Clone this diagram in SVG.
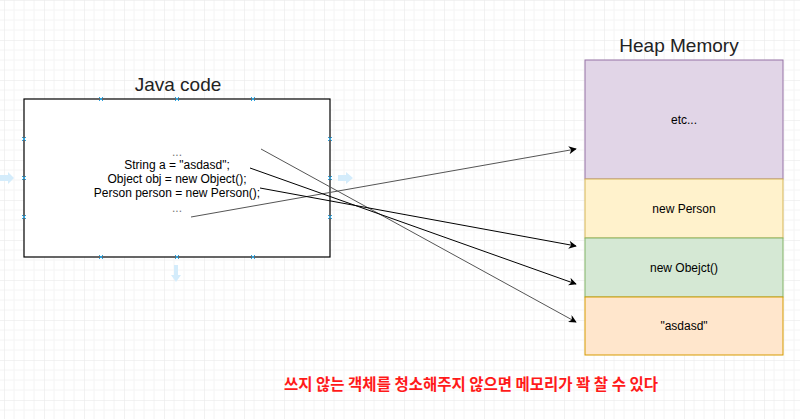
<svg xmlns="http://www.w3.org/2000/svg" width="800" height="419" viewBox="0 0 800 419">
<style>
text{font-family:"Liberation Sans",Arial,sans-serif;fill:#000}
.h{font-size:19px;fill:#222}
.c{font-size:12px}
.x{stroke:#29a3e0;stroke-width:1}
.ba{fill:#d4ecfb}
</style>
<defs>
<pattern id="g" width="40" height="40" patternUnits="userSpaceOnUse" x="4" y="0">
<path d="M10 0V40M20 0V40M30 0V40M0 10H40M0 20H40M0 30H40" stroke="#f4f4f4" stroke-width="1"/>
<path d="M0 0V40M0 0H40" stroke="#e6e6e6" stroke-width="1"/>
</pattern>
<marker id="a" viewBox="0 0 10 10" refX="9" refY="5" markerWidth="8" markerHeight="8" orient="auto" markerUnits="userSpaceOnUse"><path d="M0 0L10 5L0 10L3 5Z" fill="#000"/></marker>
<g id="xm"><path class="x" d="M-2 -2L2 2M-2 2L2 -2"/></g>
</defs>
<rect width="800" height="419" fill="#fff"/>
<rect width="800" height="419" fill="url(#g)"/>
<g id="hover">
<path class="ba" d="M0 175h8v-3l6 6-6 6v-3H0z"/>
<path class="ba" d="M338 175h8v-3l7 6-7 6v-3h-8z"/>
<path class="ba" d="M174 265h4v10h3l-5 7-5-7h3z"/>
</g>
<g id="java">
<text class="h" x="178" y="91" text-anchor="middle">Java code</text>
<rect x="24" y="99" width="306" height="158" fill="#fff" stroke="#000" stroke-width="1.2"/>
<text class="c" text-anchor="middle"><tspan x="177" y="156" fill="#777">...</tspan><tspan x="177" y="169">String a = "asdasd";</tspan><tspan x="177" y="183">Object obj = new Object();</tspan><tspan x="177" y="197">Person person = new Person();</tspan><tspan x="177" y="212" fill="#777">...</tspan></text>
<use href="#xm" x="101" y="99"/><use href="#xm" x="177" y="99"/><use href="#xm" x="253" y="99"/>
<use href="#xm" x="101" y="257"/><use href="#xm" x="177" y="257"/><use href="#xm" x="253" y="257"/>
<use href="#xm" x="24" y="139"/><use href="#xm" x="24" y="178"/><use href="#xm" x="24" y="217"/>
<use href="#xm" x="330" y="139"/><use href="#xm" x="330" y="178"/><use href="#xm" x="330" y="217"/>
</g>
<g id="heap">
<text class="h" x="679" y="52" text-anchor="middle">Heap Memory</text>
<rect x="585" y="60" width="198" height="119" fill="#e1d5e7" stroke="#9673a6"/>
<text class="c" x="684" y="124" text-anchor="middle">etc...</text>
<rect x="585" y="179" width="198" height="59" fill="#fff2cc" stroke="#d6b656"/>
<text class="c" x="684" y="213" text-anchor="middle">new Person</text>
<rect x="585" y="238" width="198" height="59" fill="#d5e8d4" stroke="#82b366"/>
<text class="c" x="684" y="272" text-anchor="middle">new Obejct()</text>
<rect x="585" y="297" width="198" height="58" fill="#ffe6cc" stroke="#d79b00"/>
<text class="c" x="684" y="330" text-anchor="middle">"asdasd"</text>
</g>
<g id="connectors" fill="none" marker-end="url(#a)">
<path d="M191 217L576 149" stroke="#555"/>
<path d="M261 149L576 322" stroke="#555"/>
<path d="M250 168L576 284" stroke="#000"/>
<path d="M260 188L576 246" stroke="#000"/>
</g>
<text x="471" y="390" text-anchor="middle" style="font-family:'Noto Sans CJK KR',sans-serif;font-size:15.5px;font-weight:bold;fill:#ff1a1a">쓰지 않는 객체를 청소해주지 않으면 메모리가 꽉 찰 수 있다</text>
</svg>
